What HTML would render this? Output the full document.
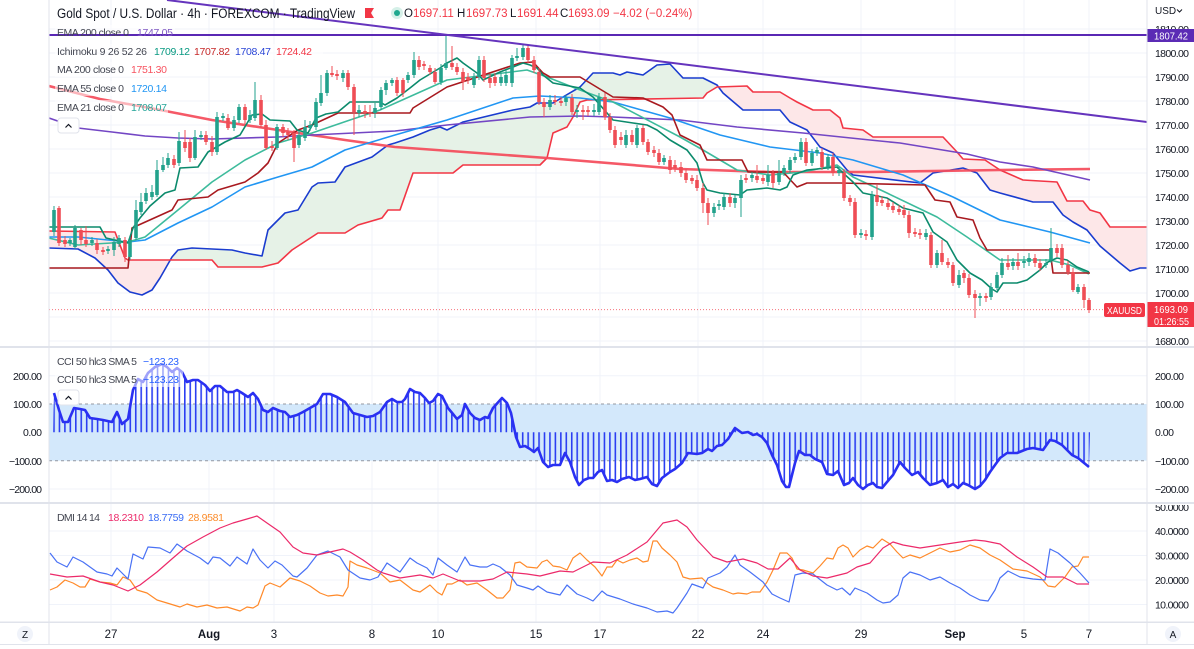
<!DOCTYPE html>
<html><head><meta charset="utf-8"><style>
html,body{margin:0;padding:0;background:#fff;}
body{width:1194px;height:649px;overflow:hidden;position:relative;}
svg{position:absolute;left:0;top:0;font-family:"Liberation Sans",Arial,sans-serif;}
</style></head><body>
<svg width="1194" height="649" viewBox="0 0 1194 649" xmlns="http://www.w3.org/2000/svg">
<defs>
<clipPath id="mainclip"><rect x="49" y="0" width="1098" height="346"/></clipPath>
<clipPath id="cpink1"><rect x="49" y="0" width="122" height="346"/></clipPath>
<clipPath id="cgreen"><rect x="171" y="0" width="544" height="346"/></clipPath>
<clipPath id="cpink2"><rect x="715" y="0" width="432" height="346"/></clipPath>
<clipPath id="cciclip"><polygon points="54,393 59,410 63,422 68,422 74,408 80,409 85,410 90,418 97,419 103,420 112,422 117,412 122,424 128,419 133,390 138,379 143,382 148,373 155,367 162,364 167,367 172,372 177,368 182,372 187,382 193,380 198,380 205,385 210,391 215,386 220,386 227,392 233,392 237,390 242,393 248,397 253,393 258,399 263,410 268,412 273,408 280,411 285,412 290,417 297,415 303,412 310,408 317,404 323,394 330,394 337,397 345,402 353,413 360,415 367,417 373,416 380,412 387,402 392,399 397,402 402,402 405,399 410,389 415,392 420,393 425,398 429,403 433,401 438,394 442,396 448,408 453,414 457,419 462,415 465,404 470,413 475,418 480,420 485,417 488,418 493,408 502,398 507,403 511,413 516,437 520,447 525,446 530,449 534,452 538,448 543,462 548,467 553,465 560,465 565,453 570,462 575,477 579,485 584,480 589,478 593,478 598,472 602,470 607,481 612,480 617,482 622,479 629,477 635,480 640,479 647,477 652,484 657,486 662,478 670,472 675,469 682,463 688,453 697,454 702,453 708,449 712,451 717,446 722,445 728,439 735,428 742,433 748,432 753,435 757,434 762,437 767,443 772,455 777,465 782,481 786,487 789,487 795,463 799,451 805,455 810,455 815,459 822,462 827,474 833,475 838,471 844,485 849,483 853,478 858,485 863,489 868,485 873,483 877,487 882,488 887,482 893,475 900,462 905,468 912,475 918,472 923,478 930,485 937,483 943,480 948,487 953,484 958,488 963,483 968,485 975,489 980,486 985,480 990,472 995,465 1000,458 1007,453 1017,453 1027,449 1033,448 1043,450 1050,440 1055,441 1062,445 1072,455 1078,458 1089,467 1090,432.3 53,432.3"/></clipPath>
<pattern id="bars" patternUnits="userSpaceOnUse" x="53.2" y="0" width="5.45" height="700"><rect x="0" y="0" width="1.6" height="700" fill="#2b3ef2"/></pattern>
<polygon id="cloud" points="49,248 78,249 95,258 108,270 118,283 130,292 142,295 152,290 160,278 172,257 178,250 192,248 232,250 245,253 262,256 268,230 285,213 298,210 312,187 318,183 335,182 345,167 372,157 388,145 395,143 413,137 430,130 440,127 447,130 463,122 513,110 530,107 537,103 553,103 563,97 580,87 593,73 613,73 620,75 627,72 643,75 657,65 670,64 683,78 703,78 717,85 723,93 743,110 780,110 790,122 807,130 820,147 833,153 847,170 853,175 920,183 933,173 963,168 977,173 990,190 1000,193 1033,202 1053,202 1063,215 1073,222 1087,230 1100,246 1120,263 1130,271 1140,268 1147,268 1147,227 1110,227 1100,213 1090,210 1083,201 1067,201 1057,182 1023,180 1000,170 985,160 963,159 957,152 943,137 873,137 863,130 843,128 840,118 830,110 813,110 797,102 790,98 780,92 753,92 747,86 717,87 707,93 703,98 587,100 580,102 573,117 567,127 553,133 547,158 540,165 463,165 453,173 413,173 400,210 388,210 382,218 358,225 345,233 318,233 292,250 278,263 262,267 218,267 212,260 128,260 125,258 115,232 49,231"/>
</defs>

<g stroke="#f0f3fa" stroke-width="1">
<path d="M111 0V622M209 0V622M274 0V622M372 0V622M438 0V622M536 0V622M600 0V622M698 0V622M763 0V622M861 0V622M955 0V622M1024 0V622M1089 0V622"/>
<path d="M49 29H1147M49 53H1147M49 77H1147M49 101H1147M49 125H1147M49 149H1147M49 173H1147M49 197H1147M49 221H1147M49 245H1147M49 269H1147M49 293H1147M49 317H1147M49 341H1147"/>
<path d="M49 375.7H1147M49 489H1147M49 531H1147M49 555.5H1147M49 580H1147M49 604.5H1147"/>
</g>

<g clip-path="url(#mainclip)">
<use href="#cloud" clip-path="url(#cpink1)" fill="#fde7e8"/>
<use href="#cloud" clip-path="url(#cgreen)" fill="#e6f2e7"/>
<use href="#cloud" clip-path="url(#cpink2)" fill="#fde7e8"/>
<g fill="none" stroke-linejoin="round">
<polyline stroke="#1a3ccf" stroke-width="1.6" points="49,248 78,249 95,258 108,270 118,283 130,292 142,295 152,290 160,278 172,257 178,250 192,248 232,250 245,253 262,256 268,230 285,213 298,210 312,187 318,183 335,182 345,167 372,157 388,145 395,143 413,137 430,130 440,127 447,130 463,122 513,110 530,107 537,103 553,103 563,97 580,87 593,73 613,73 620,75 627,72 643,75 657,65 670,64 683,78 703,78 717,85 723,93 743,110 780,110 790,122 807,130 820,147 833,153 847,170 853,175 920,183 933,173 963,168 977,173 990,190 1000,193 1033,202 1053,202 1063,215 1073,222 1087,230 1100,246 1120,263 1130,271 1140,268 1147,268"/>
<polyline stroke="#f23645" stroke-width="1.6" points="49,231 115,232 125,258 128,260 212,260 218,267 262,267 278,263 292,250 318,233 345,233 358,225 382,218 388,210 400,210 413,173 453,173 463,165 540,165 547,158 553,133 567,127 573,117 580,102 587,100 703,98 707,93 717,87 747,86 753,92 780,92 790,98 797,102 813,110 830,110 840,118 843,128 863,130 873,137 943,137 957,152 963,159 985,160 1000,170 1023,180 1057,182 1067,201 1083,201 1090,210 1100,213 1110,227 1147,227"/>
<polyline stroke="#f44b5a" stroke-width="2.6" stroke-opacity="0.92" points="49,86 100,99 150,108 212,120 278,130 345,140 395,147 547,158 680,169 770,172 870,172 1000,170 1090,169"/>
<polyline stroke="#7346c4" stroke-width="1.6" points="49,118 78,128 112,132 145,136 178,138 212,139 278,137 312,135 395,131 447,125 530,117 580,116 613,117 680,120 737,127 803,133 870,140 900,143 967,154 1000,162 1033,167 1090,180"/>
<polyline stroke="#2196f3" stroke-width="1.6" points="49,237 78,237 128,242 145,240 178,223 212,207 245,187 278,177 312,167 345,150 395,135 447,120 513,98 540,96 580,98 613,102 670,118 720,135 770,147 820,153 853,160 903,175 953,197 1000,220 1050,232 1090,243"/>
<polyline stroke="#3dbb9c" stroke-width="1.6" points="49,238 78,245 128,242 145,237 178,210 212,182 245,160 278,143 312,133 350,120 380,110 447,80 527,70 547,77 580,90 613,102 680,137 703,150 737,170 770,175 803,172 837,165 853,177 887,193 937,217 967,237 1000,260 1017,260 1050,260 1070,265 1089,274"/>
<polyline stroke="#a8191f" stroke-width="1.6" points="49,268 128,268 132,228 172,210 178,200 208,197 218,190 245,182 258,173 268,163 278,143 298,130 312,125 338,113 410,113 413,108 447,87 520,63 533,62 543,73 550,77 580,77 590,83 613,97 643,98 663,107 672,115 680,135 700,145 707,160 742,160 748,172 783,172 797,187 807,183 840,183 925,185 935,200 950,202 957,217 973,220 980,238 987,250 1050,250 1053,273 1090,273"/>
<polyline stroke="#0b8a6c" stroke-width="1.6" points="49,227 100,227 106,238 128,243 133,228 140,218 150,206 165,193 175,190 180,168 198,167 208,152 225,142 240,135 252,115 262,114 270,120 290,121 297,130 308,133 316,118 326,114 338,112 350,102 380,102 385,105 397,98 410,88 420,80 440,68 447,63 457,58 463,63 477,73 483,80 500,72 513,67 523,63 530,65 537,68 543,75 553,83 580,88 593,97 607,113 613,120 633,123 647,125 657,130 670,140 687,150 697,163 703,183 707,190 720,193 740,195 747,190 767,188 780,190 787,187 793,175 807,170 837,167 843,173 853,182 863,193 887,198 903,208 923,213 933,232 947,242 957,260 970,273 982,280 992,289 997,292 1003,283 1017,283 1027,280 1040,270 1048,262 1057,258 1067,260 1077,267 1089,272"/>
</g>
<g fill="none">
<path stroke="#22a28c" stroke-width="1" d="M54 206V236M70 238V246M75 225V249M92 237V246M108 246V254M114 237V256M119 235V247M130 237V260M136 200V240M141 193V215M146 188V204M152 185V200M157 160V197M163 157V172M168 153V168M179 132V166M195 130V160M201 131V140M217 112V155M223 113V121M234 116V131M239 104V123M250 110V123M255 82V121M277 124V150M299 131V148M305 120V141M310 121V131M316 98V130M321 75V106M327 70V96M343 70V82M359 105V117M375 103V118M381 87V110M386 80V95M392 78V86M408 72V83M414 52V78M441 64V85M446 35V70M474 73V88M479 56V80M501 73V86M506 70V86M512 55V87M517 48V61M523 45V60M550 95V110M566 95V106M577 105V118M594 104V116M599 93V115M626 130V148M637 125V148M664 155V165M714 203V217M719 200V210M724 193V210M735 195V208M741 175V217M752 172V182M768 165V186M779 160V185M784 165V176M790 157V173M795 153V163M801 138V160M812 149V166M817 147V156M828 154V170M839 167V176M861 229V238M872 191V240M926 229V240M937 250V268M959 270V288M980 293V306M991 283V300M997 272V290M1002 258V278M1013 258V270M1024 256V268M1029 253V266M1046 259V268M1051 228V263M1078 284V294"/>
<path stroke="#22a28c" stroke-width="3.6" d="M54 210V232M70 240V243M75 228V247M92 240V243M108 249V251M114 242V250M119 238V244M130 240V257M136 210V238M141 202V212M146 193V201M152 192V197M157 170V195M163 165V170M168 158V165M179 141V163M195 137V158M201 135V137M217 117V152M223 116V118M234 120V128M239 107V120M250 115V120M255 100V118M277 127V148M299 135V145M305 127V138M310 125V128M316 102V127M321 93V103M327 73V93M343 73V78M359 110V113M375 108V113M381 90V107M386 83V90M392 80V83M408 75V80M414 60V75M441 68V82M446 63V68M474 77V85M479 60V77M501 77V83M506 75V83M512 58V83M517 56V58M523 48V57M550 100V107M566 98V102M577 110V112M594 110V112M599 97V112M626 135V145M637 128V145M664 158V162M714 207V213M719 204V206M724 197V207M735 198V203M741 180V198M752 175V178M768 175V182M779 173V182M784 168V173M790 160V170M795 157V160M801 142V157M812 153V163M817 150V153M828 157V167M839 170V173M861 233V235M872 195V237M926 233V237M937 253V265M959 275V285M980 296V298M991 287V297M997 275V288M1002 263V275M1013 262V266M1024 261V263M1029 258V262M1046 263V265M1051 248V260M1078 287V292"/>
<path stroke="#ef4d55" stroke-width="1" d="M59 206V246M65 236V247M81 228V245M86 226V247M97 239V254M103 247V255M125 237V262M174 155V168M185 130V152M190 138V162M206 131V145M212 136V156M228 114V130M245 104V124M261 95V128M266 120V150M272 141V151M283 124V137M288 128V140M294 130V162M332 66V77M337 70V80M348 70V90M354 84V135M365 105V118M370 105V117M397 77V96M403 78V97M419 56V70M424 61V70M430 65V75M435 68V84M452 46V70M457 63V75M463 68V90M468 73V84M484 56V82M490 74V88M495 73V86M528 45V63M534 56V73M539 68V105M544 98V117M555 95V105M561 97V106M572 94V115M583 105V120M588 106V116M605 93V120M610 113V133M615 126V148M621 132V145M632 130V145M643 125V145M648 139V155M654 146V157M659 149V165M670 156V174M675 160V172M681 162V177M686 169V183M692 175V184M697 175V191M703 183V213M708 198V225M730 193V207M746 174V183M757 165V183M763 175V184M773 170V188M806 138V166M822 148V170M833 153V176M844 169V201M850 195V206M855 198V238M866 230V240M877 185V206M882 196V206M888 199V210M893 202V213M899 205V215M904 205V218M909 211V238M915 228V237M920 229V239M931 232V268M942 240V265M948 258V268M953 262V286M964 270V283M969 274V298M975 290V318M986 293V302M1008 255V270M1018 253V270M1035 254V267M1040 259V271M1057 244V257M1062 244V268M1068 261V275M1073 268V292M1084 284V308M1089 298V313"/>
<path stroke="#ef4d55" stroke-width="3.6" d="M59 208V243M65 240V244M81 230V240M86 240V244M97 243V250M103 250V252M125 240V257M174 159V165M185 142V148M190 142V158M206 135V142M212 142V152M228 118V128M245 107V120M261 100V125M266 125V148M272 146V148M283 127V133M288 132V135M294 133V148M332 73V75M337 74V76M348 73V87M354 87V112M365 111V113M370 112V113.5M397 80V93M403 80V93M419 60V67M424 64V66M430 68V72M435 72V82M452 63V67M457 67V72M463 72V82M468 77V80M484 60V78M490 78V83M495 77V83M528 48V60M534 60V70M539 72V102M544 102V107M555 100V102M561 101V103M572 98V112M583 110V112M588 110V112M605 97V117M610 117V130M615 130V145M621 137V140M632 135V142M643 128V142M648 142V152M654 150V153M659 153V162M670 160V170M675 165V168M681 167V173M686 173V180M692 178V181M697 180V188M703 188V203M708 203V213M730 197V203M746 178V180M757 176V180M763 178V181M773 173V183M806 142V163M822 152V167M833 157V173M844 173V198M850 198V202M855 202V235M866 234V236M877 195V202M882 200V203M888 203V207M893 206V210M899 209V212M904 210V215M909 215V233M915 232V234M920 233V235M931 235V265M942 253V262M948 262V265M953 265V283M964 273V278M969 278V295M975 294V298M986 296V298M1008 263V267M1018 262V266M1035 258V263M1040 263V268M1057 248V253M1062 248V265M1068 265V272M1073 272V290M1084 287V300M1089 300V310"/>
</g>
<line x1="49" y1="309.6" x2="1147" y2="309.6" stroke="#f23645" stroke-width="1" stroke-dasharray="1,2" stroke-opacity="0.7"/>
<g fill="#fff" fill-opacity="0.55">
<rect x="55" y="25" width="120" height="15"/>
<rect x="55" y="44" width="268" height="15"/>
<rect x="55" y="62" width="113" height="15"/>
<rect x="55" y="81" width="113" height="15"/>
<rect x="55" y="100" width="113" height="15"/>
</g>
<line x1="49" y1="35" x2="1147" y2="35" stroke="#5a28b4" stroke-width="2"/>
<line x1="167" y1="0" x2="1147" y2="122" stroke="#6534bd" stroke-width="2"/>
</g>

<rect x="1104" y="303" width="41" height="14" rx="2" fill="#f23645"/>
<text x="1107" y="314" font-size="10" fill="#fff" textLength="35" lengthAdjust="spacingAndGlyphs">XAUUSD</text>

<rect x="49" y="404" width="1098" height="56.7" fill="#d3e8fb"/>
<g stroke="#9598a1" stroke-width="1" stroke-dasharray="3,3">
<line x1="49" y1="404" x2="1147" y2="404"/>
<line x1="49" y1="460.7" x2="1147" y2="460.7"/>
</g>
<rect x="49" y="347" width="1098" height="156" fill="url(#bars)" clip-path="url(#cciclip)"/>
<polyline fill="none" stroke="#2a30f2" stroke-width="2.6" stroke-linejoin="round" points="54,393 59,410 63,422 68,422 74,408 80,409 85,410 90,418 97,419 103,420 112,422 117,412 122,424 128,419 133,390 138,379 143,382 148,373 155,367 162,364 167,367 172,372 177,368 182,372 187,382 193,380 198,380 205,385 210,391 215,386 220,386 227,392 233,392 237,390 242,393 248,397 253,393 258,399 263,410 268,412 273,408 280,411 285,412 290,417 297,415 303,412 310,408 317,404 323,394 330,394 337,397 345,402 353,413 360,415 367,417 373,416 380,412 387,402 392,399 397,402 402,402 405,399 410,389 415,392 420,393 425,398 429,403 433,401 438,394 442,396 448,408 453,414 457,419 462,415 465,404 470,413 475,418 480,420 485,417 488,418 493,408 502,398 507,403 511,413 516,437 520,447 525,446 530,449 534,452 538,448 543,462 548,467 553,465 560,465 565,453 570,462 575,477 579,485 584,480 589,478 593,478 598,472 602,470 607,481 612,480 617,482 622,479 629,477 635,480 640,479 647,477 652,484 657,486 662,478 670,472 675,469 682,463 688,453 697,454 702,453 708,449 712,451 717,446 722,445 728,439 735,428 742,433 748,432 753,435 757,434 762,437 767,443 772,455 777,465 782,481 786,487 789,487 795,463 799,451 805,455 810,455 815,459 822,462 827,474 833,475 838,471 844,485 849,483 853,478 858,485 863,489 868,485 873,483 877,487 882,488 887,482 893,475 900,462 905,468 912,475 918,472 923,478 930,485 937,483 943,480 948,487 953,484 958,488 963,483 968,485 975,489 980,486 985,480 990,472 995,465 1000,458 1007,453 1017,453 1027,449 1033,448 1043,450 1050,440 1055,441 1062,445 1072,455 1078,458 1089,467"/>
<rect x="55" y="352" width="128" height="35" fill="#fff" fill-opacity="0.55"/>

<g fill="none" stroke-width="1.2" stroke-linejoin="round">
<polyline stroke="#ff8a2a" points="50,590 57,587 65,580 73,583 80,587 85,587 90,579 100,582 110,583 117,585 123,577 130,580 137,590 147,593 157,600 167,603 180,607 187,604 197,607 207,605 217,608 227,607 240,611 247,607 253,608 258,605 265,586 270,583 280,587 290,578 300,581 310,586 320,593 328,596 337,595 343,596 348,587 350,561 357,565 367,568 380,573 390,582 400,580 413,590 420,592 430,585 437,592 442,595 447,584 452,584 460,580 467,585 477,583 487,590 497,598 503,598 510,590 515,563 520,562 527,567 537,568 542,562 547,560 553,566 560,567 567,570 573,558 580,553 587,560 595,567 602,576 607,567 612,567 617,560 623,563 630,560 637,558 643,562 648,561 653,541 657,541 662,548 670,555 677,562 683,577 690,579 702,578 707,583 713,587 723,590 733,594 738,593 747,594 752,592 760,592 767,582 773,570 780,553 787,553 792,558 797,569 803,570 813,573 820,566 827,558 833,559 838,548 843,545 848,548 853,557 860,550 867,546 873,548 882,539 890,544 897,552 903,558 910,555 920,558 930,553 940,548 950,552 960,550 970,545 980,548 990,555 1000,560 1013,569 1027,571 1040,577 1048,586 1055,587 1065,577 1072,567 1078,566 1083,557 1089,557"/>
<polyline stroke="#4a72f5" points="50,553 57,562 67,567 73,557 83,562 97,572 107,574 112,576 117,568 128,579 133,554 143,559 148,547 160,548 170,553 177,544 187,551 200,558 208,564 213,557 220,558 230,566 237,557 247,564 253,549 260,560 268,568 275,561 282,565 293,576 297,577 307,568 317,555 328,551 340,557 348,570 360,578 370,580 378,577 387,563 400,572 410,558 417,563 427,568 433,575 438,558 447,565 457,572 465,557 470,565 480,567 487,567 493,564 500,567 510,575 517,585 527,588 533,590 538,586 547,592 560,595 567,585 577,594 587,598 593,601 602,591 607,595 620,599 633,604 647,608 657,612 667,611 673,613 677,608 687,593 692,584 703,588 708,578 720,573 727,567 735,555 740,565 750,572 763,582 772,594 780,598 789,602 795,575 803,573 813,574 827,585 837,590 842,588 850,595 855,588 867,593 877,600 883,603 890,602 898,595 903,578 910,572 920,575 930,580 940,577 950,583 960,588 970,595 980,600 988,601 995,590 1000,578 1008,571 1020,577 1033,579 1045,580 1050,549 1058,553 1070,563 1080,573 1089,583"/>
<polyline stroke="#ec2a6a" points="50,574 67,577 83,576 100,582 113,585 128,591 140,585 157,572 173,558 187,546 203,537 220,528 233,523 247,519 257,516 267,523 280,532 293,547 303,553 317,555 330,552 343,549 350,552 363,560 377,570 383,573 400,578 420,575 433,578 443,574 460,581 480,581 493,579 507,572 527,574 540,576 560,571 573,572 593,562 610,563 627,555 647,542 663,523 677,520 687,527 697,540 713,557 727,562 743,559 757,563 768,569 778,569 790,558 800,570 813,576 827,578 847,573 857,567 870,563 883,548 893,542 903,545 920,548 940,545 960,542 975,540 985,541 1000,544 1017,557 1033,567 1047,577 1063,577 1077,584 1089,584"/>
</g>

<g font-size="10.5" fill="#131722" lengthAdjust="spacingAndGlyphs">
<text x="1155" y="33" textLength="34">1810.00</text>
<text x="1155" y="57" textLength="34">1800.00</text>
<text x="1155" y="81" textLength="34">1790.00</text>
<text x="1155" y="105" textLength="34">1780.00</text>
<text x="1155" y="129" textLength="34">1770.00</text>
<text x="1155" y="153" textLength="34">1760.00</text>
<text x="1155" y="177" textLength="34">1750.00</text>
<text x="1155" y="201" textLength="34">1740.00</text>
<text x="1155" y="225" textLength="34">1730.00</text>
<text x="1155" y="249" textLength="34">1720.00</text>
<text x="1155" y="273" textLength="34">1710.00</text>
<text x="1155" y="297" textLength="34">1700.00</text>
<text x="1155" y="345" textLength="34">1680.00</text>
<text x="1155" y="380" textLength="29">200.00</text>
<text x="1155" y="408" textLength="29">100.00</text>
<text x="1155" y="436" textLength="19">0.00</text>
<text x="1155" y="465" textLength="34">−100.00</text>
<text x="1155" y="493" textLength="34">−200.00</text>
<text x="1155" y="511" textLength="34">50.0000</text>
<text x="1155" y="535" textLength="34">40.0000</text>
<text x="1155" y="559.5" textLength="34">30.0000</text>
<text x="1155" y="584" textLength="34">20.0000</text>
<text x="1155" y="608.5" textLength="34">10.0000</text>
</g>
<g font-size="10.5" fill="#131722" lengthAdjust="spacingAndGlyphs">
<text x="13" y="380" textLength="29">200.00</text>
<text x="13" y="408" textLength="29">100.00</text>
<text x="23" y="436" textLength="19">0.00</text>
<text x="9" y="465" textLength="33">−100.00</text>
<text x="9" y="493" textLength="33">−200.00</text>
</g>
<text x="1155" y="14" font-size="10" fill="#131722">USD</text>
<path d="M1177 9.5l2.5 2.5l2.5-2.5" fill="none" stroke="#131722" stroke-width="1"/>

<rect x="1147" y="29" width="47" height="13" fill="#5b2bb5"/>
<text x="1154" y="39.5" font-size="10.5" fill="#fff" textLength="34" lengthAdjust="spacingAndGlyphs">1807.42</text>
<rect x="1147" y="302" width="47" height="25" fill="#f23645"/>
<text x="1154" y="313" font-size="10.5" fill="#fff" textLength="34" lengthAdjust="spacingAndGlyphs">1693.09</text>
<text x="1154" y="325" font-size="10.5" fill="#fff" textLength="35" lengthAdjust="spacingAndGlyphs">01:26:55</text>

<rect x="1148" y="497" width="46" height="8" fill="#fff"/>
<rect x="0" y="346" width="1194" height="2" fill="#e0e3eb"/>
<rect x="0" y="502" width="1194" height="2" fill="#e0e3eb"/>
<rect x="0" y="621.5" width="1194" height="1.5" fill="#e0e3eb"/>
<rect x="0" y="644" width="1194" height="1" fill="#e0e3eb"/>
<rect x="48.5" y="0" width="1" height="645" fill="#e0e3eb"/>
<rect x="1146.5" y="0" width="1" height="645" fill="#e0e3eb"/>

<text x="57" y="18" font-size="13.5" fill="#131722" textLength="298" lengthAdjust="spacingAndGlyphs">Gold Spot / U.S. Dollar · 4h · FOREXCOM · TradingView</text>
<path d="M365 8H374L371 13L374 18H365Z" fill="#f23645"/>
<circle cx="397" cy="13" r="6" fill="#d5f0e8"/>
<circle cx="397" cy="13" r="3" fill="#1fa88e"/>
<g font-size="11.5">
<text x="404" y="17" fill="#131722">O</text><text x="413" y="17" fill="#f23645">1697.11</text>
<text x="457" y="17" fill="#131722">H</text><text x="466" y="17" fill="#f23645">1697.73</text>
<text x="510" y="17" fill="#131722">L</text><text x="517" y="17" fill="#f23645">1691.44</text>
<text x="560" y="17" fill="#131722">C</text><text x="568" y="17" fill="#f23645">1693.09</text>
<text x="613" y="17" fill="#f23645">−4.02 (−0.24%)</text>
</g>
<g font-size="10.5" fill="#434651" lengthAdjust="spacingAndGlyphs">
<text x="57" y="36" textLength="72">EMA 200 close 0</text><text x="137" y="36" fill="#7e57c2" textLength="36">1747.05</text>
<text x="57" y="55" textLength="90">Ichimoku 9 26 52 26</text>
<text x="154" y="55" fill="#089981" textLength="36">1709.12</text>
<text x="194" y="55" fill="#c62828" textLength="36">1707.82</text>
<text x="235" y="55" fill="#2a45d6" textLength="36">1708.47</text>
<text x="276" y="55" fill="#f23645" textLength="36">1724.42</text>
<text x="57" y="73" textLength="67">MA 200 close 0</text><text x="131" y="73" fill="#f7525f" textLength="36">1751.30</text>
<text x="57" y="92" textLength="67">EMA 55 close 0</text><text x="131" y="92" fill="#2196f3" textLength="36">1720.14</text>
<text x="57" y="111" textLength="67">EMA 21 close 0</text><text x="131" y="111" fill="#26a69a" textLength="36">1708.07</text>
<text x="57" y="365" textLength="80">CCI 50 hlc3 SMA 5</text><text x="143" y="365" fill="#2962ff" textLength="36">−123.23</text>
<text x="57" y="383" textLength="80">CCI 50 hlc3 SMA 5</text><text x="143" y="383" fill="#2962ff" textLength="36">−123.23</text>
<text x="57" y="521" textLength="43">DMI 14 14</text>
<text x="108" y="521" fill="#ec2a6a" textLength="36">18.2310</text>
<text x="148" y="521" fill="#3a6cf4" textLength="36">18.7759</text>
<text x="188" y="521" fill="#fb8c2c" textLength="36">28.9581</text>
</g>
<rect x="58" y="118" width="21" height="15" rx="3" fill="#fff" stroke="#e0e3eb"/>
<path d="M65.5 127.5l3-3l3 3" fill="none" stroke="#131722" stroke-width="1.2"/>
<rect x="58" y="390" width="21" height="15" rx="3" fill="#fff" stroke="#e0e3eb"/>
<path d="M65.5 399.5l3-3l3 3" fill="none" stroke="#131722" stroke-width="1.2"/>

<g font-size="11.5" fill="#131722" text-anchor="middle">
<text x="111" y="638">27</text>
<text x="209" y="638" font-weight="bold">Aug</text>
<text x="274" y="638">3</text>
<text x="372" y="638">8</text>
<text x="438" y="638">10</text>
<text x="536" y="638">15</text>
<text x="600" y="638">17</text>
<text x="698" y="638">22</text>
<text x="763" y="638">24</text>
<text x="861" y="638">29</text>
<text x="955" y="638" font-weight="bold">Sep</text>
<text x="1024" y="638">5</text>
<text x="1089" y="638">7</text>
</g>
<circle cx="25" cy="634" r="8" fill="#f0f3fa"/>
<text x="25" y="638" font-size="10" fill="#131722" text-anchor="middle">Z</text>
<circle cx="1173" cy="634" r="8" fill="#f0f3fa"/>
<text x="1173" y="638" font-size="10" fill="#131722" text-anchor="middle">A</text>
</svg>
</body></html>
